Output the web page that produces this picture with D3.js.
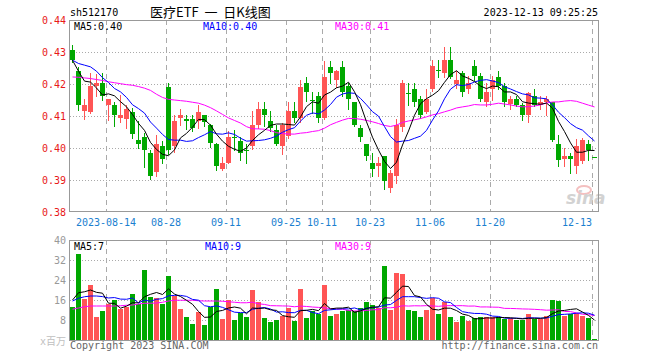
<!DOCTYPE html>
<html><head><meta charset="utf-8">
<script src="https://cdn.jsdelivr.net/npm/d3@7"></script>
<style>body{margin:0;background:#fff;}svg{display:block;}</style>
</head><body>
<svg id="c" width="660" height="360"></svg>
<script>
// ---------- DATA ----------
const dates = [
"2023-08-04","2023-08-07","2023-08-08","2023-08-09","2023-08-10","2023-08-11",
"2023-08-14","2023-08-15","2023-08-16","2023-08-17","2023-08-18",
"2023-08-21","2023-08-22","2023-08-23","2023-08-24","2023-08-25",
"2023-08-28","2023-08-29","2023-08-30","2023-08-31","2023-09-01",
"2023-09-04","2023-09-05","2023-09-06","2023-09-07","2023-09-08",
"2023-09-11","2023-09-12","2023-09-13","2023-09-14","2023-09-15",
"2023-09-18","2023-09-19","2023-09-20","2023-09-21","2023-09-22",
"2023-09-25","2023-09-26","2023-09-27","2023-09-28",
"2023-10-09","2023-10-10","2023-10-11","2023-10-12","2023-10-13",
"2023-10-16","2023-10-17","2023-10-18","2023-10-19","2023-10-20",
"2023-10-23","2023-10-24","2023-10-25","2023-10-26","2023-10-27",
"2023-10-30","2023-10-31","2023-11-01","2023-11-02","2023-11-03",
"2023-11-06","2023-11-07","2023-11-08","2023-11-09","2023-11-10",
"2023-11-13","2023-11-14","2023-11-15","2023-11-16","2023-11-17",
"2023-11-20","2023-11-21","2023-11-22","2023-11-23","2023-11-24",
"2023-11-27","2023-11-28","2023-11-29","2023-11-30","2023-12-01",
"2023-12-04","2023-12-05","2023-12-06","2023-12-07","2023-12-08",
"2023-12-11","2023-12-12","2023-12-13"];

const open = [
.4305,.4242,.4115,.4113,.4193,.4203,.4134,.4133,.4093,.4092,
.4114,.4024,.4034,.3983,.3924,.4005,.4192,.4005,.4093,.4092,
.4092,.4084,.4102,.4073,.4014,.3933,.3954,.4034,.4023,.3994,
.4006,.4073,.4123,.4084,.4055,.4006,.4037,.4115,.4093,.4202,
.4149,.4164,.4093,.4254,.4214,.4254,.4193,.4143,.4063,.4014,
.3954,.3943,.3974,.3876,.3914,.4066,.4173,.4183,.4152,.4113,
.4183,.4243,.4235,.4274,.4201,.4233,.4183,.4256,.4224,.4143,
.4185,.4222,.4193,.4136,.4152,.4133,.4102,.4164,.4134,.4143,
.4143,.4014,.3966,.3974,.3943,.3959,.4014,.3973];
const high = [
.4323,.4254,.4152,.4234,.4230,.4234,.4153,.4143,.4166,.4135,
.4126,.4084,.4047,.3993,.4042,.4023,.4202,.4102,.4123,.4102,
.4102,.4135,.4104,.4074,.4015,.3972,.4053,.4055,.4034,.4013,
.4115,.4143,.4143,.4115,.4073,.4078,.4143,.4143,.4214,.4222,
.4174,.4174,.4273,.4273,.4243,.4273,.4204,.4143,.4073,.4014,
.3983,.3972,.3975,.3931,.4091,.4214,.4202,.4202,.4164,.4183,
.4274,.4274,.4315,.4315,.4240,.4242,.4224,.4274,.4235,.4204,
.4224,.4242,.4204,.4164,.4164,.4141,.4174,.4183,.4164,.4164,
.4143,.4041,.4000,.3985,.4027,.4032,.4024,.3973];
const low = [
.4268,.4120,.4091,.4109,.4162,.4150,.4089,.4070,.4081,.4062,
.4030,.4000,.3940,.3902,.3912,.3954,.3980,.3988,.4073,.4060,
.4053,.4063,.4070,.4004,.3931,.3930,.3952,.3995,.3962,.3954,
.3998,.4063,.4070,.4053,.4010,.3980,.4032,.4081,.4081,.4148,
.4110,.4081,.4092,.4204,.4190,.4164,.4122,.4070,.4021,.3962,
.3914,.3914,.3872,.3862,.3891,.4053,.4134,.4131,.4093,.4110,
.4178,.4222,.4222,.4220,.4188,.4164,.4172,.4214,.4146,.4131,
.4150,.4183,.4131,.4122,.4131,.4089,.4081,.4131,.4122,.4102,
.4021,.3943,.3943,.3922,.3922,.3954,.3964,.3972];
const close = [
.4274,.4134,.4134,.4193,.4203,.4164,.4152,.4103,.4102,.4123,
.4043,.4014,.3993,.3914,.4014,.3966,.3993,.4083,.4102,.4084,
.4063,.4114,.4080,.4016,.3943,.3954,.4034,.4033,.3985,.3993,
.4073,.4123,.4102,.4063,.4014,.4073,.4115,.4093,.4191,.4174,
.4148,.4093,.4223,.4235,.4242,.4174,.4154,.4073,.4034,.3974,
.3933,.3954,.3896,.3922,.4073,.4202,.4172,.4143,.4102,.4152,
.4256,.4242,.4274,.4222,.4214,.4174,.4204,.4224,.4152,.4174,
.4214,.4193,.4143,.4152,.4133,.4102,.4172,.4133,.4143,.4152,
.4024,.3964,.3974,.3966,.4006,.4024,.3993,.3972];
// volume, millions
const volume = [
13.3,34.4,16.4,22.0,9.2,11.6,14.4,16.0,12.4,13.3,
18.4,14.4,28.0,17.3,16.9,14.4,25.6,17.7,12.4,9.3,
6.4,11.2,6.0,13.1,20.4,8.4,16.1,8.0,10.7,9.2,
20.0,15.2,8.8,7.2,8.0,9.7,12.8,7.7,20.4,8.8,
11.5,10.3,22.0,9.6,10.4,11.6,12.0,11.6,12.7,15.3,
14.0,12.7,29.7,12.0,26.9,26.4,12.0,11.6,9.3,12.0,
16.7,10.4,15.3,9.2,7.3,9.6,7.7,8.7,9.2,9.1,
9.1,9.1,8.4,8.7,8.0,8.0,10.4,8.4,8.4,9.6,
16.0,15.6,9.6,10.3,10.9,9.6,8.7,0.4];

// closes / volumes just before the window (estimated from the MA5/MA10 starts)
const priorCloses = [.4238,.4186,.4246,.4339,.4366,.4304,.4289,.4208,.4295];
const priorVolumes = [23.4,10.4,19.0,9.2,14.0,19.9,14.4,18.5,13.9];
const ma30PriceHead = [
.4222,.4221,.4219,.4217,.4214,.4211,.4207,.4204,.4201,.4198,
.4196,.4192,.4187,.4180,.4168,.4158,.4152,.4150,.4148,.4146,
.4143,.4140,.4134,.4126,.4116,.4105,.4094,.4086,.4078];
const ma30VolHead = [
12.3,12.8,13.3,13.6,13.6,13.6,13.6,13.6,13.7,13.9,
14.0,14.4,14.7,14.7,14.8,15.1,15.6,15.9,15.9,15.9,
15.9,15.7,15.6,15.6,15.6,15.5,15.3,15.1,14.9];

const priceTicks = [0.38,0.39,0.40,0.41,0.42,0.43,0.44];
const volTicks = [8,16,24,32,40];
const tickDates = ["2023-08-14","2023-08-28","2023-09-11","2023-09-25","2023-10-11","2023-10-23","2023-11-06","2023-11-20","2023-12-13"];
const tickLabels = ["2023-08-14","08-28","09-11","09-25","10-11","10-23","11-06","11-20","12-13"];

// ---------- HELPERS ----------
function movingAvg(series, prior, n, head) {
  const all = prior.concat(series);
  return series.map((_, i) => {
    if (head && i < head.length) return head[i];
    const j = i + prior.length;
    return d3.mean(all.slice(j - n + 1, j + 1));
  });
}
const ma5 = movingAvg(close, priorCloses, 5);
const ma10 = movingAvg(close, priorCloses, 10);
const ma30 = movingAvg(close, priorCloses, 30, ma30PriceHead);
const vma5 = movingAvg(volume, priorVolumes, 5);
const vma10 = movingAvg(volume, priorVolumes, 10);
const vma30 = movingAvg(volume, priorVolumes, 30, ma30VolHead);

// ---------- LAYOUT ----------
const L = 70, R = 598, PT = 20, PB = 212, VT = 240, VB = 340;
const RED = "#ff5555", GREEN = "#00a800";
const MONO = "'DejaVu Sans Mono','Liberation Mono',monospace";
const svg = d3.select("#c");
const idx = d3.range(close.length);
const x = d3.scaleBand().domain(idx).range([L, R]).paddingInner(0).paddingOuter(0);
const cx = i => x(i) + 2.5;
const y = d3.scaleLinear().domain([0.38, 0.44]).range([PB, PT]);
const yv = d3.scaleLinear().domain([0, 40]).range([VB, VT]);
const isUp = i => close[i] > open[i];
const col = i => isUp(i) ? RED : GREEN;

// ---------- GRID ----------
const grid = svg.append("g");
grid.selectAll(".hp").data(priceTicks.filter(t => t > 0.381 && t < 0.439)).join("line")
  .attr("x1", L).attr("x2", R).attr("y1", d => Math.round(y(d)) + 0.5).attr("y2", d => Math.round(y(d)) + 0.5)
  .attr("stroke", "#aaa").attr("stroke-dasharray", "1,2");
grid.selectAll(".hv").data(volTicks.filter(t => t < 40)).join("line")
  .attr("x1", L).attr("x2", R).attr("y1", d => Math.round(yv(d)) + 0.5).attr("y2", d => Math.round(yv(d)) + 0.5)
  .attr("stroke", "#aaa").attr("stroke-dasharray", "1,2");
const tickIdx = tickDates.map(d => dates.indexOf(d));
[[PT, PB], [VT, VB]].forEach(([a, b]) => {
  grid.append("g").selectAll("line").data(tickIdx).join("line")
    .attr("x1", i => x(i) + 0.5).attr("x2", i => x(i) + 0.5)
    .attr("y1", a).attr("y2", b)
    .attr("stroke", "#aaa").attr("stroke-dasharray", "5,4");
});

// ---------- WATERMARK ----------
const wm = svg.append("g");
wm.append("ellipse").attr("cx", 584).attr("cy", 190).attr("rx", 7).attr("ry", 4)
  .attr("fill", "none").attr("stroke", "#f4c0c0").attr("stroke-width", 2);
wm.append("text").attr("x", 566).attr("y", 204).attr("font-family", "'DejaVu Sans',sans-serif")
  .attr("font-size", 17).attr("font-weight", "bold").attr("font-style", "italic")
  .attr("fill", "#d2d2d2").text("sina");

// ---------- CANDLES ----------
const cg = svg.append("g").attr("shape-rendering", "crispEdges");
cg.selectAll(".wick").data(idx).join("line")
  .attr("x1", cx).attr("x2", cx)
  .attr("y1", i => Math.round(y(high[i]))).attr("y2", i => Math.round(y(low[i])) + 1)
  .attr("stroke", col).attr("stroke-width", 1);
cg.selectAll(".body").data(idx).join("rect")
  .attr("x", i => x(i)).attr("width", x.bandwidth() - 1)
  .attr("y", i => Math.round(y(Math.max(open[i], close[i]))))
  .attr("height", i => Math.max(1, Math.round(y(Math.min(open[i], close[i]))) - Math.round(y(Math.max(open[i], close[i])))))
  .attr("fill", col);

// ---------- VOLUME ----------
cg.selectAll(".vol").data(idx).join("rect")
  .attr("x", i => x(i)).attr("width", x.bandwidth() - 1)
  .attr("y", i => Math.round(yv(volume[i])))
  .attr("height", i => Math.max(1, VB - Math.round(yv(volume[i]))))
  .attr("fill", col);

// ---------- MA LINES ----------
const lp = d3.line().x((d, i) => cx(i)).y(d => y(d));
const lv = d3.line().x((d, i) => cx(i)).y(d => yv(d));
[[ma30, "#ff00ff"], [ma10, "#0000ff"], [ma5, "#000"]].forEach(([s, c]) =>
  svg.append("path").attr("d", lp(s)).attr("fill", "none").attr("stroke", c).attr("stroke-width", 1));
[[vma30, "#ff00ff"], [vma10, "#0000ff"], [vma5, "#000"]].forEach(([s, c]) =>
  svg.append("path").attr("d", lv(s)).attr("fill", "none").attr("stroke", c).attr("stroke-width", 1));

// ---------- FRAMES ----------
const fr = svg.append("g").attr("fill", "none").attr("stroke", "#999").attr("shape-rendering", "crispEdges");
fr.append("path").attr("d", `M${L - 0.5},${PT + 0.5}H${R + 0.5}V${PB - 0.5}H${L - 0.5}Z`);
fr.append("path").attr("d", `M${L - 0.5},${VT + 0.5}H${R + 0.5}V${VB + 0.5}H${L - 0.5}Z`);

// ---------- AXES ----------
const ya = svg.append("g").attr("transform", `translate(${L},0)`)
  .call(d3.axisLeft(y).tickValues(priceTicks).tickSize(0).tickPadding(4).tickFormat(d3.format(".2f")));
ya.select(".domain").remove();
ya.selectAll("text").attr("fill", "#e81818").attr("font-family", MONO).attr("font-size", 10);

const va = svg.append("g").attr("transform", `translate(${L},0)`)
  .call(d3.axisLeft(yv).tickValues(volTicks).tickSize(0).tickPadding(4).tickFormat(d3.format("d")));
va.select(".domain").remove();
va.selectAll("text").attr("fill", "#999").attr("font-family", MONO).attr("font-size", 10);

svg.append("text").attr("x", L - 4).attr("y", 345).attr("text-anchor", "end")
  .attr("font-family", MONO + ",'Noto Sans CJK SC'").attr("font-size", 10).attr("fill", "#c0c0c0").text("x百万");

const xl = svg.append("g").attr("font-family", MONO).attr("font-size", 10).attr("fill", "#1b7fd0");
tickIdx.forEach((i, k) => {
  const t = xl.append("text").attr("x", x(i)).attr("y", 226).attr("text-anchor", "middle").text(tickLabels[k]);
  const w = t.node().getComputedTextLength();
  if (x(i) + w / 2 > R) t.attr("text-anchor", "end");
});

// ---------- HEADER ----------
svg.append("text").attr("x", L).attr("y", 16).attr("font-family", MONO).attr("font-size", 10).attr("fill", "#000").text("sh512170");
svg.append("text").attr("x", 150).attr("y", 17).attr("font-family", "'Noto Sans CJK SC',sans-serif")
  .attr("font-size", 13).attr("fill", "#000").style("white-space", "pre").text("医疗ETF  一  日K线图");
svg.append("text").attr("x", R).attr("y", 16).attr("text-anchor", "end").attr("font-family", MONO)
  .attr("font-size", 10).attr("fill", "#000").text("2023-12-13 09:25:25");

const last = close.length - 1;
const fp = d3.format(".2f");
const hdr = svg.append("g").attr("font-family", MONO).attr("font-size", 10);
hdr.append("text").attr("x", 74).attr("y", 30).attr("fill", "#000").text("MA5:" + fp(ma5[last]));
hdr.append("text").attr("x", 203).attr("y", 30).attr("fill", "#0000ff").text("MA10:" + fp(ma10[last]));
hdr.append("text").attr("x", 335).attr("y", 30).attr("fill", "#ff00ff").text("MA30:" + fp(ma30[last]));
hdr.append("text").attr("x", 74).attr("y", 250).attr("fill", "#000").text("MA5:" + Math.floor(vma5[last]));
hdr.append("text").attr("x", 205).attr("y", 250).attr("fill", "#0000ff").text("MA10:" + Math.floor(vma10[last]));
hdr.append("text").attr("x", 335).attr("y", 250).attr("fill", "#ff00ff").text("MA30:" + Math.floor(vma30[last]));

// ---------- FOOTER ----------
svg.append("text").attr("x", L).attr("y", 349).attr("font-family", MONO).attr("font-size", 10).attr("fill", "#666").text("Copyright 2023 SINA.COM");
svg.append("text").attr("x", R).attr("y", 349).attr("text-anchor", "end").attr("font-family", MONO).attr("font-size", 10).attr("fill", "#666").text("http://finance.sina.com.cn");
</script>
</body></html>
